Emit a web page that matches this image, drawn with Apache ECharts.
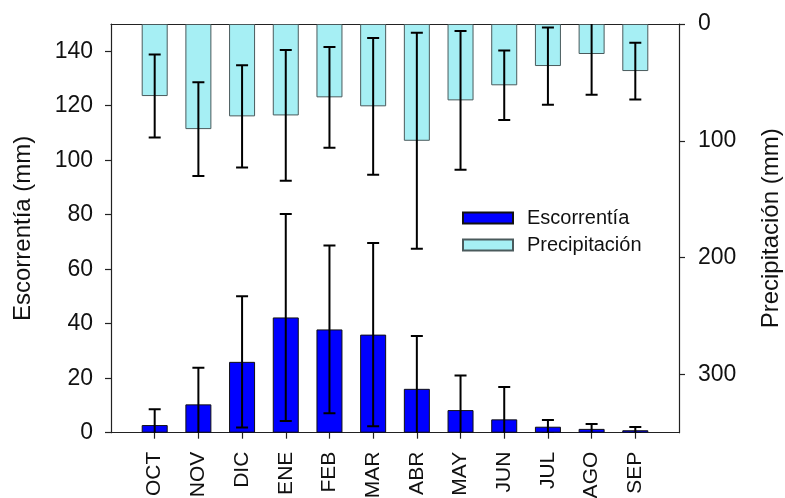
<!DOCTYPE html>
<html>
<head>
<meta charset="utf-8">
<script src="https://cdn.jsdelivr.net/npm/echarts@6/dist/echarts.min.js"></script>
<style>
html,body{margin:0;padding:0;background:#fff;}
#chart{width:785px;height:498px;}
</style>
</head>
<body>
<div id="chart"></div>
<script>
const months = ['OCT','NOV','DIC','ENE','FEB','MAR','ABR','MAY','JUN','JUL','AGO','SEP'];
const runoffMean = [2.8, 10.4, 26.0, 42.3, 37.9, 36.0, 16.1, 8.3, 4.9, 2.2, 1.4, 0.9];
const runoffSd   = [5.8, 13.4, 24.1, 38.0, 30.8, 33.6, 19.4, 12.7, 11.9, 2.5, 1.8, 1.2];
const precipMean = [61.7, 90.0, 79.1, 78.3, 62.8, 70.5, 100.0, 65.4, 52.5, 36.0, 25.7, 40.3];
const precipSd   = [35.5, 40.2, 43.7, 56.0, 43.1, 58.5, 92.4, 59.4, 29.7, 33.1, 34.9, 24.3];
const leftTicks  = [0, 20, 40, 60, 80, 100, 120, 140];
const rightTicks = [0, 100, 200, 300];

const cats = [' '].concat(months, ['  ']);
const FONT = 'Liberation Sans';

function errRender(params, api) {
  const x = api.value(0);
  const m = api.value(1), s = api.value(2);
  const top = api.coord([x, m + s]);
  const bot = api.coord([x, m - s]);
  const half = 6;
  const st = {stroke: '#000', lineWidth: 2};
  return {
    type: 'group',
    children: [
      {type: 'line', shape: {x1: top[0], y1: top[1], x2: bot[0], y2: bot[1]}, style: st},
      {type: 'line', shape: {x1: top[0]-half, y1: top[1], x2: top[0]+half, y2: top[1]}, style: st},
      {type: 'line', shape: {x1: bot[0]-half, y1: bot[1], x2: bot[0]+half, y2: bot[1]}, style: st}
    ]
  };
}

const chart = echarts.init(document.getElementById('chart'), null, {renderer: 'canvas'});
const axisLineStyle = {color: '#222', width: 1.2};
chart.setOption({
  animation: false,
  backgroundColor: '#fff',
  grid: {left: 111, right: 106, top: 24, bottom: 65.3, containLabel: false, outerBoundsMode: 'none'},
  legend: {
    orient: 'vertical',
    left: 462,
    top: 208,
    padding: 0,
    itemWidth: 50,
    itemHeight: 11,
    itemGap: 7,
    icon: 'rect',
    data: ['Escorrentía', 'Precipitación'],
    textStyle: {fontFamily: FONT, fontSize: 20, color: '#111', lineHeight: 20, padding: [0, 0, 0, 9]}
  },
  xAxis: [{
    type: 'category',
    data: cats,
    boundaryGap: false,
    axisLine: {show: true, lineStyle: axisLineStyle},
    axisTick: {show: true, length: 6, lineStyle: {color: '#222', width: 1.2},
      interval: function (i) { return i > 0 && i < cats.length - 1; }},
    axisLabel: {interval: 0, rotate: 90, margin: 19, fontFamily: FONT, fontSize: 21, color: '#111'},
    splitLine: {show: false}
  }, {
    type: 'category',
    data: cats,
    boundaryGap: false,
    position: 'top',
    axisLine: {show: true, lineStyle: axisLineStyle},
    axisTick: {show: false},
    axisLabel: {show: false},
    splitLine: {show: false}
  }],
  yAxis: [{
    type: 'value',
    min: 0, max: 150,
    position: 'left',
    name: 'Escorrentía (mm)',
    nameLocation: 'middle',
    nameGap: 76,
    nameRotate: 90,
    nameTextStyle: {fontFamily: FONT, fontSize: 24, color: '#111'},
    axisLine: {show: true, lineStyle: axisLineStyle},
    axisTick: {show: true, length: 6, customValues: leftTicks, lineStyle: {color: '#222', width: 1.2}},
    axisLabel: {customValues: leftTicks, margin: 18, fontFamily: FONT, fontSize: 23, color: '#111'},
    splitLine: {show: false}
  }, {
    type: 'value',
    min: 0, max: 350,
    inverse: true,
    position: 'right',
    name: 'Precipitación (mm)',
    nameLocation: 'middle',
    nameGap: 80,
    nameRotate: 90,
    nameTextStyle: {fontFamily: FONT, fontSize: 24, color: '#111'},
    axisLine: {show: true, lineStyle: axisLineStyle},
    axisTick: {show: true, length: 6, customValues: rightTicks, lineStyle: {color: '#222', width: 1.2}},
    axisLabel: {customValues: rightTicks, margin: 19, fontFamily: FONT, fontSize: 23, color: '#111'},
    splitLine: {show: false}
  }],
  series: [{
    name: 'Precipitación',
    type: 'bar',
    xAxisIndex: 0, yAxisIndex: 1,
    barWidth: 26, barGap: '-100%',
    z: 2,
    itemStyle: {color: '#a6eff4', borderColor: '#4a5a5c', borderWidth: 1},
    data: months.map((m, i) => [m, precipMean[i]])
  }, {
    name: 'PrecipErr',
    type: 'custom',
    xAxisIndex: 0, yAxisIndex: 1,
    clip: true,
    z: 3,
    renderItem: errRender,
    data: months.map((m, i) => [i + 1, precipMean[i], precipSd[i]])
  }, {
    name: 'Escorrentía',
    type: 'bar',
    xAxisIndex: 0, yAxisIndex: 0,
    barWidth: 26, barGap: '-100%',
    z: 2,
    itemStyle: {color: '#0000ff', borderColor: '#111', borderWidth: 1},
    data: months.map((m, i) => [m, runoffMean[i]])
  }, {
    name: 'RunoffErr',
    type: 'custom',
    xAxisIndex: 0, yAxisIndex: 0,
    clip: true,
    z: 3,
    renderItem: errRender,
    data: months.map((m, i) => [i + 1, runoffMean[i], runoffSd[i]])
  }]
});
</script>
</body>
</html>
